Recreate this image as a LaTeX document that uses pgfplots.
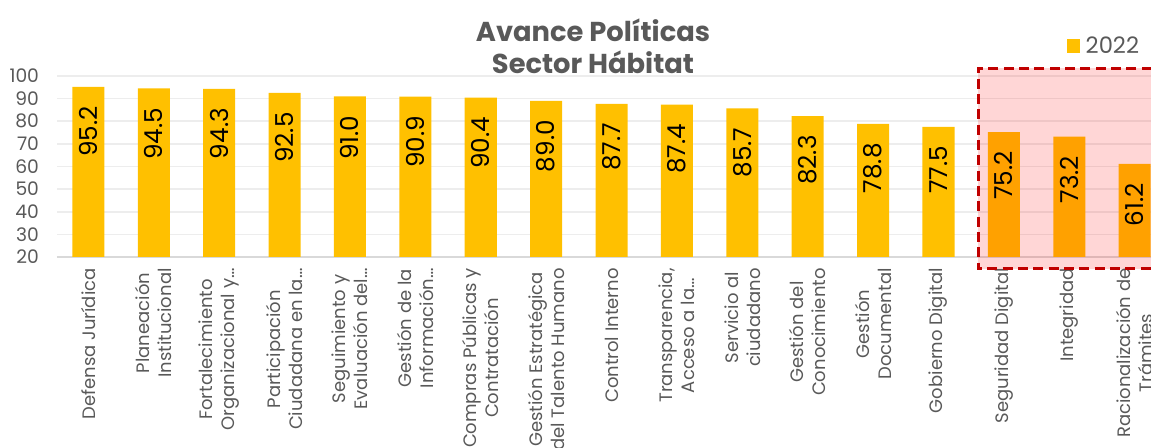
\documentclass[border=0pt]{standalone}
\usepackage{fontspec}
\setmainfont{Poppins}
\usepackage{pgfplots}
\usepackage{pgfplotstable}
\pgfplotsset{compat=1.18}

\definecolor{barYellow}{HTML}{FFC000}
\definecolor{txtGray}{HTML}{595959}
\definecolor{gridGray}{HTML}{EDEDED}
\definecolor{axisGray}{HTML}{D9D9D9}
\definecolor{boxRed}{HTML}{C00000}

% one row per policy, in the order of the chart
\pgfplotstableread{
idx val
0  95.2
1  94.5
2  94.3
3  92.5
4  91.0
5  90.9
6  90.4
7  89.0
8  87.7
9  87.4
10 85.7
11 82.3
12 78.8
13 77.5
14 75.2
15 73.2
16 61.2
}\avance

\begin{document}
\begin{tikzpicture}
\begin{axis}[
  scale only axis,
  width=820.5pt, height=135.75pt,
  xmin=-0.48, xmax=16.25,
  ymin=20, ymax=100,
  clip=false,
  ybar, bar width=0.49,
  axis x line*=bottom, axis y line*=left,
  x axis line style={-, draw=axisGray, line width=1.5pt},
  y axis line style={draw=none},
  major tick length=0pt,
  ytick={20,30,...,100},
  ymajorgrids, grid style={gridGray, line width=1.2pt},
  xtick={0,...,16},
  xticklabels={
    {Defensa Jurídica},
    {Planeación\\Institucional},
    {Fortalecimiento\\Organizacional y…},
    {Participación\\Ciudadana en la…},
    {Seguimiento y\\Evaluación del…},
    {Gestión de la\\Información…},
    {Compras Públicas y\\Contratación},
    {Gestión Estratégica\\del Talento Humano},
    {Control Interno},
    {Transparencia,\\Acceso a la…},
    {Servicio al\\ciudadano},
    {Gestión del\\Conocimiento},
    {Gestión\\Documental},
    {Gobierno Digital},
    {Seguridad Digital},
    {Integridad},
    {Racionalización de\\Trámites},
  },
  /pgf/number format/assume math mode=true,
  yticklabel style={font=\fontsize{14}{16}\selectfont, text=txtGray, xshift=-10pt},
  xticklabel style={font=\fontsize{13.5}{16.5}\selectfont, text=txtGray,
    align=center, yshift=-5pt, rotate=90, anchor=east},
  nodes near coords={\pgfmathprintnumber\pgfplotspointmeta\hspace*{11pt}},
  nodes near coords style={font=\fontsize{18.5}{20}\selectfont, text=black,
    /pgf/number format/fixed, /pgf/number format/fixed zerofill,
    /pgf/number format/precision=1, /pgf/number format/assume math mode=true},
  every node near coord/.append style={rotate=90, anchor=east},
  legend style={at={(0.923,1.166)}, anchor=west, draw=none, fill=none,
    font=\fontsize{17}{20}\selectfont, text=txtGray, inner sep=0pt,
    nodes={inner xsep=4pt}},
  legend image code/.code={\fill[barYellow] (0pt,-5pt) rectangle (10pt,5pt);},
]
\addplot[fill=barYellow, draw=none, bar shift=0pt] table[x=idx, y=val] {\avance};
\addlegendentry{2022}
% highlighted group
\fill[red, fill opacity=0.16] (axis cs:13.61,14.7) rectangle (axis cs:17.2,103.5);
\draw[boxRed, line width=2.25pt, dash pattern=on 7.5pt off 4pt]
  (axis cs:17.2,103.5) -- (axis cs:13.61,103.5) -- (axis cs:13.61,14.7) -- (axis cs:17.2,14.7);
\end{axis}
\node[font=\bfseries\fontsize{20.5}{24}\selectfont, text=txtGray, align=center]
  at (402pt,158.25pt) {Avance Políticas\\Sector Hábitat};
\pgfresetboundingbox
\path (-42.75pt,-143.25pt) rectangle (820.5pt,192.75pt);
\end{tikzpicture}
\end{document}
